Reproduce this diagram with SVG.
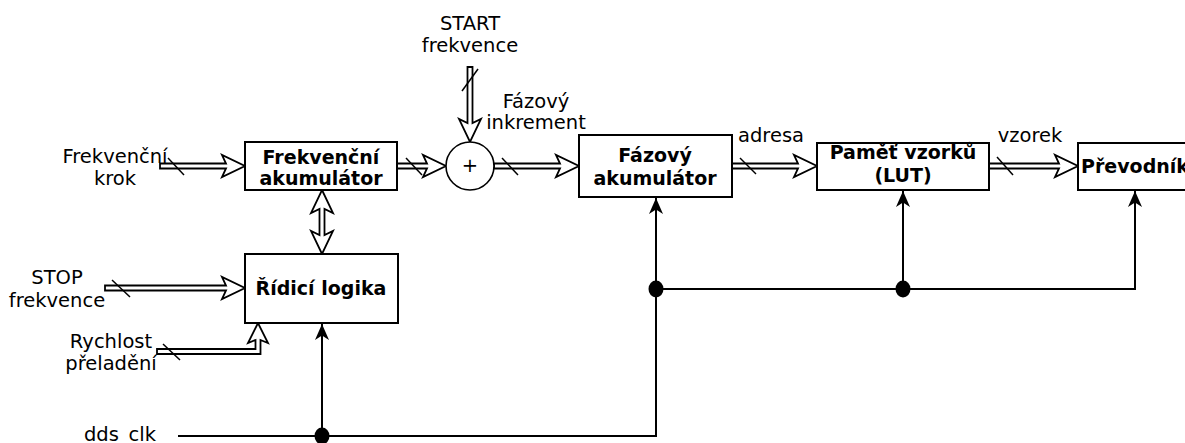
<svg xmlns="http://www.w3.org/2000/svg" width="1185" height="443" viewBox="0 0 1185 443">
<style>
text{font-family:"DejaVu Sans","Noto Sans",sans-serif;font-size:19.5px;fill:#000}
.b{font-weight:bold;font-size:19px}
.box{fill:#fff;stroke:#000;stroke-width:2}
.bus{fill:#fff;stroke:#000;stroke-width:1.8;stroke-linejoin:miter}
.sl{stroke:#000;stroke-width:1.5}
.clk{fill:none;stroke:#000;stroke-width:2}
</style>
<defs>
<marker id="ah" viewBox="-17 -8 19 16" markerWidth="19" markerHeight="16" refX="0" refY="0" orient="auto" markerUnits="userSpaceOnUse">
<path d="M0,0 L-16,-7 L-11.5,0 L-16,7 Z" fill="#000"/>
</marker>
</defs>
<g id="connectors">
<path class="bus" d="M160,163.5 H226 L222,155 L245,166 L222,177 L226,168.5 H160 Z"/>
<path class="bus" d="M397,163.5 H427 L423,155 L446,166 L423,177 L427,168.5 H397 Z"/>
<path class="bus" d="M467.5,67 V123 L459,119 L470,142 L481,119 L472.5,123 V67 Z"/>
<path class="bus" d="M494,163.5 H560 L556,155 L579,166 L556,177 L560,168.5 H494 Z"/>
<path class="bus" d="M732,163.5 H798 L794,155 L817,166 L794,177 L798,168.5 H732 Z"/>
<path class="bus" d="M989,163.5 H1059 L1055,155 L1078,166 L1055,177 L1059,168.5 H989 Z"/>
<path class="bus" d="M105,285.5 H226 L222,277 L245,288 L222,299 L226,290.5 H105 Z"/>
<path class="bus" d="M157,349 H255.5 V340 L248,343 L258,323 L268,343 L260.5,340 V354 H157 Z"/>
<path class="bus" d="M322,190 L333,213 L324.5,209 V235 L333,231 L322,254 L311,231 L319.5,235 V209 L311,213 Z"/>
<line class="sl" x1="168" y1="158" x2="184" y2="175"/>
<line class="sl" x1="406" y1="158" x2="422" y2="175"/>
<line class="sl" x1="462" y1="91" x2="478" y2="69"/>
<line class="sl" x1="502" y1="158" x2="518" y2="175"/>
<line class="sl" x1="740" y1="158" x2="756" y2="174"/>
<line class="sl" x1="997" y1="157" x2="1013" y2="175"/>
<line class="sl" x1="112" y1="280" x2="130" y2="297"/>
<line class="sl" x1="163" y1="344" x2="180" y2="360"/>
<path class="clk" d="M178,436 H656 V198" marker-end="url(#ah)"/>
<path class="clk" d="M322,436 V324" marker-end="url(#ah)"/>
<path class="clk" d="M656,289 H1135 V191" marker-end="url(#ah)"/>
<path class="clk" d="M903,289 V191" marker-end="url(#ah)"/>
<ellipse cx="322" cy="436" rx="7.5" ry="8.5"/>
<ellipse cx="656" cy="289" rx="7.5" ry="8.5"/>
<ellipse cx="903" cy="289" rx="7.5" ry="8.5"/>
</g>
<g id="frek-akum">
<rect class="box" x="245" y="142" width="152" height="48"/>
<text class="b" x="321" y="164" text-anchor="middle">Frekvenční</text>
<text class="b" x="321" y="185" text-anchor="middle">akumulátor</text>
</g>
<g id="soucet">
<circle cx="470" cy="166" r="24" fill="#fff" stroke="#000" stroke-width="1.6"/>
<text x="470" y="172" text-anchor="middle">+</text>
</g>
<g id="faz-akum">
<rect class="box" x="579" y="135" width="153" height="62"/>
<text class="b" x="655" y="162" text-anchor="middle">Fázový</text>
<text class="b" x="655" y="185" text-anchor="middle">akumulátor</text>
</g>
<g id="pamet">
<rect class="box" x="817" y="143" width="172" height="47"/>
<text class="b" x="903" y="159" text-anchor="middle">Paměť vzorků</text>
<text class="b" x="903" y="182" text-anchor="middle">(LUT)</text>
</g>
<g id="prevodnik">
<rect class="box" x="1078" y="143" width="120" height="47"/>
<text class="b" x="1135" y="173" text-anchor="middle">Převodník</text>
</g>
<g id="ridici">
<rect class="box" x="245" y="254" width="153" height="69"/>
<text class="b" x="321" y="295" text-anchor="middle">Řídicí logika</text>
</g>
<g id="labels">
<text x="115" y="163" text-anchor="middle">Frekvenční</text>
<text x="115" y="185" text-anchor="middle">krok</text>
<text x="470" y="30" text-anchor="middle">START</text>
<text x="470" y="52" text-anchor="middle">frekvence</text>
<text x="536" y="108" text-anchor="middle">Fázový</text>
<text x="536" y="129" text-anchor="middle">inkrement</text>
<text x="771" y="142" text-anchor="middle">adresa</text>
<text x="1030" y="142" text-anchor="middle">vzorek</text>
<text x="57" y="284" text-anchor="middle">STOP</text>
<text x="57" y="307" text-anchor="middle">frekvence</text>
<text x="111" y="348" text-anchor="middle">Rychlost</text>
<text x="111" y="370" text-anchor="middle">přeladění</text>
<text x="120" y="441" text-anchor="middle">dds_clk</text>
</g>
</svg>
